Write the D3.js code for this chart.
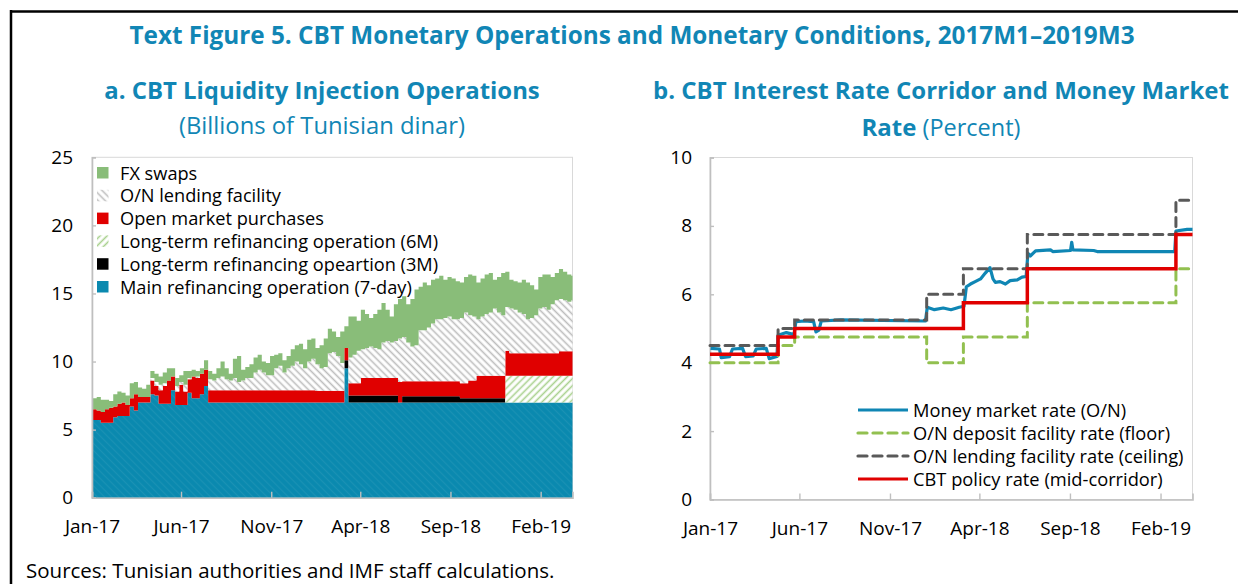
<!DOCTYPE html>
<html>
<head>
<meta charset="utf-8">
<script src="https://cdn.jsdelivr.net/npm/d3@7"></script>
<style>
  body { margin: 0; background: #fff; }
  svg { display: block; font-family: "Open Sans", "Noto Sans", sans-serif; }
</style>
</head>
<body>
<svg id="chart" width="1238" height="584"></svg>
<script>
// ---------- data ----------
// panel a: weekly observations (Mondays, 2 Jan 2017 - 25 Mar 2019), billions of TND
var mro = [
  5.7,5.7,5.5,5.5,5.5,5.9,6.0,6.0,6.0,6.7,
  6.4,7.0,7.0,7.0,7.6,7.5,6.9,6.9,6.9,7.9,
  6.8,6.8,6.8,7.7,7.3,7.3,7.6,8.2,7.0,7.0,
  7,7,7,7,7,7,7,7,7,7,
  7,7,7,7,7,7,7,7,7,7,
  7,7,7,7,7,7,7,7,7,7,
  7,9.5,7,7,7,7,7,7,7,7,
  7,7,7,7,7,7,7,7,7,7,
  7,7,7,7,7,7,7,7,7,7,
  7,7,7,7,7,7,7,7,7,7,
  7,7,7,7,7,7,7,7,7,7,
  7,7,7,7,7,7,7
];
var ltro3m = [
  0,0,0,0,0,0,0,0,0,0,
  0,0,0,0,0,0,0,0,0,0,
  0,0,0,0,0,0,0,0,0,0,
  0,0,0,0,0,0,0,0,0,0,
  0,0,0,0,0,0,0,0,0,0,
  0,0,0,0,0,0,0,0,0,0,
  0,0.6,0.5,0.5,0.5,0.5,0.5,0.5,0.5,0.5,
  0.5,0.5,0.5,0.5,0,0.45,0.45,0.45,0.45,0.45,
  0.45,0.45,0.45,0.45,0.45,0.45,0.45,0.45,0.45,0.3,
  0.3,0.3,0.3,0.3,0.3,0.3,0.3,0.3,0.3,0.3,
  0,0,0,0,0,0,0,0,0,0,
  0,0,0,0,0,0,0
];
var ltro6m = [
  0,0,0,0,0,0,0,0,0,0,
  0,0,0,0,0,0,0,0,0,0,
  0,0,0,0,0,0,0,0,0,0,
  0,0,0,0,0,0,0,0,0,0,
  0,0,0,0,0,0,0,0,0,0,
  0,0,0,0,0,0,0,0,0,0,
  0,0,0,0,0,0,0,0,0,0,
  0,0,0,0,0,0,0,0,0,0,
  0,0,0,0,0,0,0,0,0,0,
  0,0,0,0,0,0,0,0,0,0,
  1.95,1.95,1.95,1.95,1.95,1.95,1.95,1.95,1.95,1.95,
  1.95,1.95,1.95,1.95,1.95,1.95,1.95
];
var omp = [
  0.8,0.7,0.8,1.0,1.1,0.8,0.9,1.0,0.8,0.6,
  1.2,0.4,0.4,0.4,1.0,0.7,1.0,1.3,1.7,1.0,
  1.0,1.5,1.0,1.0,1.6,1.5,1.5,1.2,0.9,0.9,
  0.9,0.9,0.9,0.9,0.9,0.9,0.9,0.9,0.9,0.9,
  0.9,0.9,0.9,0.9,0.9,0.9,0.9,0.9,0.9,0.9,
  0.9,0.9,0.9,0.9,0.85,0.85,0.85,0.85,0.85,0.85,
  0.85,0.9,0.9,0.9,0.9,1.3,1.3,1.3,1.3,1.3,
  1.3,1.3,1.3,1.3,1.5,1.1,1.1,1.1,1.1,1.1,
  1.1,1.1,1.1,1.1,1.1,1.1,1.1,1.1,1.1,1.1,
  1.1,1.3,1.3,1.65,1.65,1.65,1.65,1.65,1.65,1.65,
  1.85,1.65,1.65,1.65,1.65,1.65,1.65,1.65,1.65,1.65,
  1.65,1.65,1.65,1.8,1.8,1.8,1.8
];
var onLending = [
  0,0,0,0,0,0,0,0,0,0,
  0,0,0,0,0.2,0.3,0.4,0.2,0,0,
  0.4,0.2,0.5,0.1,0,0.1,0,0,0.8,0.7,
  0.9,1.0,0.8,0.7,0.9,0.6,0.7,0.9,0.9,1.3,
  1.5,1.3,1.1,1.1,1.6,1.8,1.3,1.6,1.8,2.1,
  1.9,1.6,2.1,2.3,1.95,1.65,1.75,2.75,2.85,2.55,
  2.05,0,1.9,2.1,2.4,2.1,2.2,2.3,2.2,2.1,
  2.6,2.7,2.6,2.7,3.2,3.25,2.85,2.55,2.65,3.75,
  3.75,3.95,4.25,4.55,4.55,4.65,4.75,4.55,4.55,4.8,
  5.2,4.8,4.7,4.15,4.35,4.55,4.65,4.95,4.65,4.45,
  3.2,3.3,3.2,3.0,2.9,2.5,2.6,2.8,3.3,3.4,
  3.2,3.6,3.9,3.85,3.75,3.65,3.75
];
var fxSwaps = [
  0.8,1.0,0.9,0.7,0.5,0.9,0.9,0.7,0.7,1.1,
  0.9,0.7,0.6,0.9,0.5,0.6,0.6,0.8,0.9,0.6,
  0.6,0.5,1.0,0.5,0.5,0.4,0.4,0.7,0.6,0.5,
  0.7,1.1,0.8,0.5,1.4,1.9,0.8,0.8,1.0,1.1,
  1.1,0.8,0.9,1.4,1.0,0.9,0.9,0.9,1.2,1.2,
  1.5,1.4,1.6,1.5,1.2,1.7,2.1,1.8,1.5,1.4,
  2.3,1.6,3.0,2.8,2.2,2.9,2.5,2.1,2.5,2.9,
  2.9,2.3,1.9,2.7,2.9,3.0,2.8,3.5,4.1,3.2,
  3.5,3.1,3.2,3.0,3.2,2.8,2.9,3.0,2.8,2.6,
  2.6,3.0,3.0,2.7,2.8,2.9,2.9,2.1,2.6,3.1,
  2.6,2.1,2.1,2.2,2.5,2.7,2.4,1.9,2.3,2.4,
  2.6,2.0,2.0,2.2,2.1,2.0,1.8
];
var seriesNames = ["Main refinancing operation (7-day)", "Long-term refinancing opeartion (3M)",
  "Long-term refinancing operation (6M)", "Open market purchases", "O/N lending facility", "FX swaps"];

// panel b: corridor step changes (percent)
var rateChangeDates = ["2017-01-01","2017-04-26","2017-05-24","2018-01-02","2018-03-05","2018-06-21","2019-02-27"];
var policyRate = [4.25, 4.75, 5.0, 5.0, 5.75, 6.75, 7.75];
var ceilingRate = [4.5, 5.0, 5.25, 6.0, 6.75, 7.75, 8.75];
var floorRate = [4.0, 4.5, 4.75, 4.0, 4.75, 5.75, 6.75];
// money market rate (O/N)
var mmDates = ["2017-01-02","2017-01-17","2017-01-20","2017-02-03","2017-02-08","2017-02-25","2017-03-02",
  "2017-03-15","2017-03-20","2017-04-06","2017-04-11","2017-04-24","2017-04-26","2017-05-10","2017-05-23",
  "2017-05-26","2017-06-10","2017-06-25","2017-06-29","2017-07-04","2017-07-08","2017-08-10","2017-12-31",
  "2018-01-03","2018-01-15","2018-01-30","2018-02-12","2018-02-26","2018-03-06","2018-03-10","2018-03-17",
  "2018-03-25","2018-04-03","2018-04-11","2018-04-19","2018-04-24","2018-04-28","2018-05-06","2018-05-15",
  "2018-05-23","2018-06-04","2018-06-12","2018-06-19","2018-06-22","2018-06-26","2018-07-05","2018-07-30",
  "2018-08-03","2018-09-02","2018-09-04","2018-09-06","2018-10-11","2018-10-17","2019-02-25","2019-02-27",
  "2019-03-18","2019-03-27"];
var mmRate = [4.42,4.40,4.15,4.18,4.40,4.42,4.18,
  4.20,4.40,4.42,4.12,4.18,4.80,4.88,4.82,
  5.20,5.22,5.20,4.90,4.95,5.22,5.25,5.22,
  5.62,5.55,5.60,5.55,5.62,5.65,6.22,6.30,
  6.37,6.45,6.62,6.78,6.45,6.35,6.37,6.30,
  6.40,6.42,6.50,6.52,7.20,7.12,7.27,7.30,
  7.25,7.28,7.52,7.30,7.28,7.25,7.25,7.85,
  7.90,7.90];
var lineNames = ["Money market rate (O/N)", "O/N deposit facility rate (floor)",
  "O/N lending facility rate (ceiling)", "CBT policy rate (mid-corridor)"];

var xTicks = ["2017-01-01","2017-06-01","2017-11-01","2018-04-01","2018-09-01","2019-02-01"];
var leftTicks = [0, 5, 10, 15, 20, 25];
var rightTicks = [0, 2, 4, 6, 8, 10];

// ---------- setup ----------
var parse = d3.timeParse("%Y-%m-%d");
var fmt = d3.timeFormat("%b-%y");
var dStart = parse("2017-01-01"), dEnd = parse("2019-03-27");
var svg = d3.select("#chart");
var titleColor = "#1186b5";

// frame
svg.append("line").attr("x1", 11).attr("x2", 1238).attr("y1", 11.5).attr("y2", 11.5)
  .attr("stroke", "#000").attr("stroke-width", 2.5);
svg.append("line").attr("x1", 11).attr("x2", 11).attr("y1", 10).attr("y2", 584)
  .attr("stroke", "#000").attr("stroke-width", 2.5);

// titles
svg.append("text").attr("x", 632).attr("y", 44).attr("text-anchor", "middle")
  .attr("fill", titleColor).style("font-size", "24.3px").style("font-weight", "bold")
  .text("Text Figure 5. CBT Monetary Operations and Monetary Conditions, 2017M1\u20132019M3");
svg.append("text").attr("x", 322).attr("y", 99).attr("text-anchor", "middle")
  .attr("fill", titleColor).style("font-size", "23.9px").style("font-weight", "bold")
  .text("a. CBT Liquidity Injection Operations");
svg.append("text").attr("x", 322).attr("y", 134).attr("text-anchor", "middle")
  .attr("fill", titleColor).style("font-size", "23.8px")
  .text("(Billions of Tunisian dinar)");
svg.append("text").attr("x", 941).attr("y", 99).attr("text-anchor", "middle")
  .attr("fill", titleColor).style("font-size", "24px").style("font-weight", "bold")
  .text("b. CBT Interest Rate Corridor and Money Market");
var t2 = svg.append("text").attr("x", 941).attr("y", 136).attr("text-anchor", "middle")
  .attr("fill", titleColor).style("font-size", "23.5px");
t2.append("tspan").style("font-weight", "bold").style("font-size", "24px").text("Rate");
t2.append("tspan").text(" (Percent)");

svg.append("text").attr("x", 26).attr("y", 578).style("font-size", "20.5px").attr("fill", "#000")
  .text("Sources: Tunisian authorities and IMF staff calculations.");

// patterns
var defs = svg.append("defs");
function hatch(id, bg, col, angle, w) {
  var p = defs.append("pattern").attr("id", id).attr("patternUnits", "userSpaceOnUse")
    .attr("width", 5).attr("height", 5).attr("patternTransform", "rotate(" + angle + ")");
  p.append("rect").attr("width", 5).attr("height", 5).attr("fill", bg);
  p.append("line").attr("x1", 2.5).attr("x2", 2.5).attr("y1", 0).attr("y2", 5)
    .attr("stroke", col).attr("stroke-width", w);
}
hatch("hGrey", "#fff", "#bdbdbd", -45, 1.6);
hatch("hGreen", "#fff", "#a9d18e", 45, 1.6);
hatch("hTeal", "#0a89af", "#1a91b4", -45, 1.2);

var fills = ["url(#hTeal)", "#000", "url(#hGreen)", "#e00000", "url(#hGrey)", "#89bd79"];
var swatchFills = ["#0a89af", "#000", "url(#hGreen)", "#e00000", "url(#hGrey)", "#89bd79"];

// ---------- panel a ----------
var xa = d3.scaleTime().domain([dStart, dEnd]).range([92, 572.5]);
var ya = d3.scaleLinear().domain([0, 25]).range([497.7, 157.3]);

var weeks = d3.timeMonday.range(parse("2017-01-02"), parse("2019-03-26"));
var keys = ["mro", "ltro3m", "ltro6m", "omp", "onLending", "fxSwaps"];
var rows = weeks.map(function(d, i) {
  return { date: d, mro: mro[i], ltro3m: ltro3m[i], ltro6m: ltro6m[i],
    omp: omp[i], onLending: onLending[i], fxSwaps: fxSwaps[i] };
});
// carry the final week to the end of the axis
var lastRow = Object.assign({}, rows[rows.length - 1], { date: dEnd });
var stacked = d3.stack().keys(keys)(rows.concat([lastRow]));

var area = d3.area().curve(d3.curveStepAfter)
  .x(function(d) { return xa(d.data.date); })
  .y0(function(d) { return ya(d[0]); })
  .y1(function(d) { return ya(d[1]); });

var ga = svg.append("g");
// plot frame
ga.append("rect").attr("x", 92).attr("y", 157.3).attr("width", 480.5).attr("height", 340.4)
  .attr("fill", "none").attr("stroke", "#d9d9d9").attr("stroke-width", 1);
ga.selectAll("path.layer").data(stacked).enter().append("path")
  .attr("class", "layer")
  .attr("d", area)
  .attr("fill", function(d, i) { return fills[i]; });

// axes
var axA = ga.append("g").attr("transform", "translate(0,497.7)")
  .call(d3.axisBottom(xa).tickValues(xTicks.map(parse)).tickFormat(fmt).tickSize(-6).tickPadding(22));
var axAy = ga.append("g").attr("transform", "translate(92,0)")
  .call(d3.axisLeft(ya).tickValues(leftTicks).tickSize(-4).tickPadding(19));

// legend a
var legA = ga.append("g");
var legOrder = [5, 4, 3, 2, 1, 0];
legOrder.forEach(function(k, j) {
  var cy = 173 + j * 22.8;
  legA.append("rect").attr("x", 97).attr("y", cy - 6).attr("width", 11.5).attr("height", 11.5)
    .attr("fill", swatchFills[k]);
  legA.append("text").attr("x", 120).attr("y", cy + 6.5).style("font-size", "18.2px")
    .attr("fill", "#000").text(seriesNames[k]);
});

// ---------- panel b ----------
var xb = d3.scaleTime().domain([dStart, dEnd]).range([710, 1192.5]);
var yb = d3.scaleLinear().domain([0, 10]).range([499.5, 157.5]);
var gb = svg.append("g");
gb.append("rect").attr("x", 710).attr("y", 157.5).attr("width", 482.5).attr("height", 342)
  .attr("fill", "none").attr("stroke", "#d9d9d9").attr("stroke-width", 1);

var axB = gb.append("g").attr("transform", "translate(0,499.5)")
  .call(d3.axisBottom(xb).tickValues(xTicks.map(parse)).tickFormat(fmt).tickSize(-6).tickPadding(22));
var axBy = gb.append("g").attr("transform", "translate(710,0)")
  .call(d3.axisLeft(yb).tickValues(rightTicks).tickSize(-4).tickPadding(18));

[axA, axAy, axB, axBy].forEach(function(a) {
  a.select(".domain").attr("stroke", "#bfbfbf").attr("stroke-width", 1.6);
  a.selectAll(".tick line").attr("stroke", "#bfbfbf").attr("stroke-width", 1.4);
  a.selectAll(".tick text").style("font-size", "19px").style("font-family", "'Open Sans', sans-serif").attr("fill", "#000");
});

function stepPoints(vals) {
  var pts = rateChangeDates.map(function(d, i) { return [parse(d), vals[i]]; });
  pts.push([dEnd, vals[vals.length - 1]]);
  return pts;
}
var stepLine = d3.line().curve(d3.curveStepAfter)
  .x(function(d) { return xb(d[0]); }).y(function(d) { return yb(d[1]); });
var plainLine = d3.line()
  .x(function(d) { return xb(d[0]); }).y(function(d) { return yb(d[1]); });

var mmPts = mmDates.map(function(d, i) { return [parse(d), mmRate[i]]; });
gb.append("path").attr("d", plainLine(mmPts)).attr("fill", "none")
  .attr("stroke", "#0f86b4").attr("stroke-width", 3.2).attr("stroke-linejoin", "round");
gb.append("path").attr("d", stepLine(stepPoints(floorRate))).attr("fill", "none")
  .attr("stroke", "#92c050").attr("stroke-width", 3).attr("stroke-dasharray", "9,6")
  .attr("stroke-linecap", "round");
gb.append("path").attr("d", stepLine(stepPoints(ceilingRate))).attr("fill", "none")
  .attr("stroke", "#595959").attr("stroke-width", 3).attr("stroke-dasharray", "9,6")
  .attr("stroke-linecap", "round");
gb.append("path").attr("d", stepLine(stepPoints(policyRate))).attr("fill", "none")
  .attr("stroke", "#e00000").attr("stroke-width", 3.5);

// legend b
var legStyles = [
  { c: "#0f86b4", dash: null },
  { c: "#92c050", dash: "9,6" },
  { c: "#595959", dash: "9,6" },
  { c: "#e00000", dash: null }
];
legStyles.forEach(function(s, j) {
  var cy = 410 + j * 23;
  var l = gb.append("line").attr("x1", 858).attr("x2", 908).attr("y1", cy).attr("y2", cy)
    .attr("stroke", s.c).attr("stroke-width", 3.2);
  if (s.dash) l.attr("stroke-dasharray", s.dash).attr("stroke-linecap", "round");
  gb.append("text").attr("x", 913).attr("y", cy + 6.5).style("font-size", "18.3px")
    .attr("fill", "#000").text(lineNames[j]);
});
</script>
</body>
</html>
